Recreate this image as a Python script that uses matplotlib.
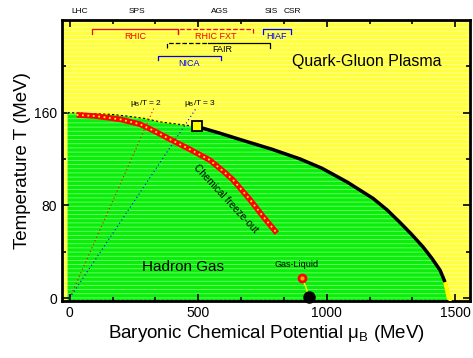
import numpy as np
import matplotlib
matplotlib.use('Agg')
import matplotlib.pyplot as plt
from matplotlib.ticker import MultipleLocator

plt.rcParams['font.family'] = ['Liberation Sans', 'DejaVu Sans']
plt.rcParams['hatch.linewidth'] = 0.6

# Limite de fase (crossover + primer orden)
cross_mu = [-8, 90, 160, 222, 290, 351, 420, 495]
cross_T = [160, 159, 158.5, 157, 155, 152, 150, 148]
first_mu = [495, 580, 674, 785, 896, 981, 1080, 1180, 1235, 1286, 1330, 1375, 1410, 1441, 1458, 1466]
first_T = [148, 142.5, 136, 128.5, 120, 112, 100, 86, 76, 65, 55, 44, 34, 24, 15, 8]
# Congelamiento quimico
fo_mu = [27, 100, 200, 273, 330, 390, 470, 545, 600, 635, 670, 701, 750, 806]
fo_T = [158, 157, 154, 150, 144, 137, 128, 119, 109, 102, 93, 85, 71, 56]
# Lineas mu_B/T
r2_mu, r2_T = [0, 328], [0, 164]
r3_mu, r3_T = [0, 490], [0, 163]
# Punto critico (cuadrado) y gas-liquido
cp_mu, cp_T = 495, 148
gl_mu, gl_T = [904, 918, 931], [17, 10, 1]

top_labels = ['LHC', 'SPS', 'AGS', 'SIS', 'CSR']
top_pos = [39, 261, 584, 783, 865]

# rangos de experimentos: nombre, inicio, fin, T, color, estilo
facilities = [('RHIC', 86, 421, 232, 'red', '-'),
              ('RHIC FXT', 421, 713, 232, 'red', '--'),
              ('HIAF', 752, 861, 232, 'blue', '-'),
              ('NICA', 343, 588, 209, 'blue', '-')]
fair_dash = [378, 538]
fair_solid = [538, 779]
fair_T = 220

fig = plt.figure(figsize=(4.73, 3.58), dpi=100)
ax = fig.add_axes([0.131, 0.159, 0.863, 0.785])
ax.set_xlim(-30, 1558)
ax.set_ylim(-2.6, 239.8)

# fondo amarillo (QGP)
ax.fill_between([-30, 1558], -2.6, 240.5, facecolor='#ffff3a', edgecolor='#ffffb0',
                hatch='----', linewidth=0, zorder=0)
# region verde (hadrones)
gmu = cross_mu + first_mu[1:] + [1470]
gT = cross_T + first_T[1:] + [-2]
ax.fill_between(gmu, -2, gT, facecolor='#0aee0a', edgecolor='#70ff70',
                hatch='----', linewidth=0, zorder=1)
ax.plot(gmu, gT, color='#ffff00', lw=0.8, zorder=2)

ax.plot(cross_mu, cross_T, color='black', lw=0.8, ls=(0, (2, 2)), zorder=3)
ax.plot(first_mu, first_T, color='black', lw=2.5, zorder=3)
ax.plot([1462, 1478], [12, -2], color='#ffff00', lw=3, zorder=3)
ax.plot([-8, 1470], [-2, -2], color='black', lw=0.8, ls=(0, (2, 2)), zorder=3)

ax.plot(r2_mu, r2_T, color='red', lw=0.8, ls=(0, (1, 2.5)), zorder=3)
ax.plot(r3_mu, r3_T, color='blue', lw=0.8, ls=(0, (1, 2.5)), zorder=3)

ax.plot(fo_mu, fo_T, color='red', lw=4, solid_capstyle='butt', zorder=4)
ax.plot(fo_mu, fo_T, color='#ffff00', lw=1.3, ls=(0, (1, 2)), zorder=5)

ax.plot(cp_mu, cp_T, 's', ms=7, mfc='#ffff00', mec='black', mew=1.3, zorder=6)
ax.plot(gl_mu, gl_T, color='#ffff00', lw=1, zorder=5)
ax.plot(gl_mu[0], gl_T[0], 'o', ms=6, mfc='red', mec='red', zorder=6)
ax.plot(gl_mu[0], gl_T[0], 'o', ms=2, mfc='#ffaa00', mec='#ffaa00', zorder=7)
ax.plot(gl_mu[-1], gl_T[-1], 'o', ms=8, color='black', zorder=7, clip_on=False)

# rangos de experimentos
for name, a, b, T, c, ls in facilities:
    ax.plot([a, a, b, b], [T - 4, T, T, T - 4], color=c, lw=0.9, ls=ls, zorder=4)
    ax.text((a + b) / 2, T - 2.5, name, color=c, fontsize=6.5, ha='center', va='top')
ax.plot([fair_dash[0], fair_dash[0], fair_dash[1]], [fair_T - 4, fair_T, fair_T],
        color='black', lw=0.9, ls='--', zorder=4)
ax.plot([fair_solid[0], fair_solid[1], fair_solid[1]], [fair_T, fair_T, fair_T - 4],
        color='black', lw=0.9, zorder=4)
ax.text(594, fair_T - 2, 'FAIR', fontsize=6.5, ha='center', va='top')

ax.text(1157, 204, 'Quark-Gluon Plasma', fontsize=11.5, ha='center', va='center')
ax.text(280, 27, 'Hadron Gas', fontsize=11, ha='left', va='center')
ax.text(607, 86, 'Chemical freeze-out', fontsize=7.2, rotation=-47,
        ha='center', va='center', rotation_mode='anchor')
ax.text(884, 29, 'Gas-Liquid', fontsize=6.5, ha='center', va='center')
ax.text(296, 168, r'$\mathregular{\mu_B/T}$ = 2', fontsize=6, ha='center', va='center')
ax.text(507, 168, r'$\mathregular{\mu_B/T}$ = 3', fontsize=6, ha='center', va='center')

for lab, p in zip(top_labels, top_pos):
    ax.text(p, 1.03, lab, fontsize=6, ha='center', va='center',
            transform=ax.get_xaxis_transform())

ax.xaxis.set_major_locator(MultipleLocator(500))
ax.xaxis.set_minor_locator(MultipleLocator(500 / 3))
ax.yaxis.set_major_locator(MultipleLocator(80))
ax.yaxis.set_minor_locator(MultipleLocator(40))
ax.tick_params(which='both', direction='in', top=True, right=True, labelsize=10, width=1.2)
ax.tick_params(which='major', length=5)
ax.tick_params(which='minor', length=3)
for s in ax.spines.values():
    s.set_linewidth(2)

ax.set_xlabel(r'Baryonic Chemical Potential $\mathregular{\mu_B}$ (MeV)', fontsize=13.5, labelpad=2)
ax.set_ylabel('Temperature T (MeV)', fontsize=13.5, labelpad=2)

plt.savefig('out.png', dpi=100)
